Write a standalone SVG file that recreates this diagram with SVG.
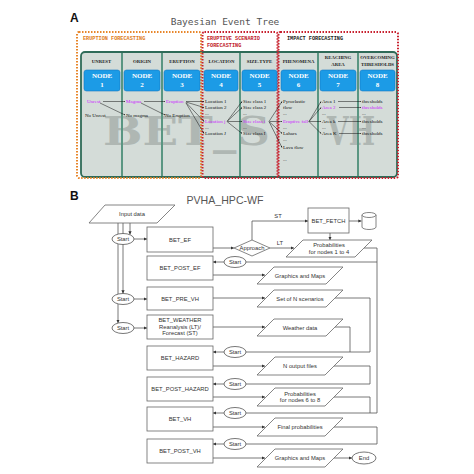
<svg xmlns="http://www.w3.org/2000/svg" width="474" height="474" viewBox="0 0 474 474">
<defs>
<style>
.lbl{font:bold 12px "Liberation Sans",Arial,sans-serif;fill:#111}
.ttl{font:9.5px "DejaVu Sans Mono",monospace;fill:#555}
.sec{font:bold 5.2px "Liberation Mono","DejaVu Sans Mono",monospace}
.hd{font:bold 4.8px "Liberation Serif",serif;fill:#222;text-anchor:middle}
.nd{font:bold 7px "Liberation Serif",serif;fill:#fff;text-anchor:middle}
.tx{font:5px "Liberation Serif",serif;fill:#111}
.mg{fill:#cc22ff}
.wm{font:bold 40px "DejaVu Serif","Liberation Serif",serif;fill:#a0a8a4;opacity:0.7}
.node{fill:#1c9be6;stroke:#1579c2;stroke-width:0.6}
.div{stroke:#5a9682;stroke-width:2}
.ca{stroke:#111;stroke-width:0.5;fill:none}
.fl{font:5.8px "Liberation Sans",Arial,sans-serif;fill:#333;text-anchor:middle}
.box{fill:#fff;stroke:#666;stroke-width:0.8}
.st{fill:#fff;stroke:#555;stroke-width:0.8}
.cn{fill:none;stroke:#555;stroke-width:0.8}
</style>
<marker id="aa" viewBox="0 0 6 6" refX="6" refY="3" markerWidth="3" markerHeight="3" orient="auto"><path d="M0,0 L6,3 L0,6 z" fill="#111"/></marker>
<marker id="ab" viewBox="0 0 6 6" refX="6" refY="3" markerWidth="4" markerHeight="4" orient="auto"><path d="M0,0 L6,3 L0,6 z" fill="#333"/></marker>
</defs>
<rect width="474" height="474" fill="#fff"/>

<!-- ============ PART A ============ -->
<text class="lbl" x="70" y="22">A</text>
<text class="ttl" x="225" y="25" text-anchor="middle">Bayesian Event Tree</text>

<g id="panelA">
<rect x="81" y="52" width="316" height="125" rx="4" fill="#d4dcd8" stroke="#2f6b58" stroke-width="1.8"/>
<text class="wm" x="103" y="145"><tspan textLength="167" lengthAdjust="spacingAndGlyphs">BET_S</tspan><tspan x="327" textLength="48" lengthAdjust="spacingAndGlyphs">VH</tspan></text>
<line class="div" x1="122" y1="53" x2="122" y2="176"/>
<line class="div" x1="162" y1="53" x2="162" y2="176"/>
<line class="div" x1="240" y1="53" x2="240" y2="176"/>
<line class="div" x1="318" y1="53" x2="318" y2="176"/>
<line class="div" x1="358" y1="53" x2="358" y2="176"/>
</g>

<g id="sections">
<rect x="77" y="32" width="124" height="146" rx="2" fill="none" stroke="#e8862a" stroke-width="2" stroke-dasharray="1.5 1.5"/>
<rect x="202.5" y="32" width="75" height="146" rx="2" fill="none" stroke="#c8202e" stroke-width="2" stroke-dasharray="1.5 1.5"/>
<rect x="278.5" y="32" width="119.5" height="146" rx="2" fill="none" stroke="#c8202e" stroke-width="2" stroke-dasharray="1.5 1.5"/>
<text class="sec" x="83" y="40" fill="#e07b20">ERUPTION FORECASTING</text>
<text class="sec" x="207" y="40" fill="#c0202a">ERUPTIVE SCENARIO</text>
<text class="sec" x="207" y="47" fill="#c0202a">FORECASTING</text>
<text class="sec" x="287" y="40" fill="#222">IMPACT FORECASTING</text>
</g>

<g id="node1">
<text class="hd" x="101.5" y="63">UNREST</text>
<rect class="node" x="84" y="70" width="36" height="21" rx="2.5"/>
<text class="nd" x="102" y="78">NODE</text><text class="nd" x="102" y="87">1</text>
<text class="tx mg" x="87" y="103">Unrest</text>
<text class="tx" x="85" y="117">No Unrest</text>
</g>
<g id="node2">
<text class="hd" x="142" y="63">ORIGIN</text>
<rect class="node" x="124" y="70" width="36" height="21" rx="2.5"/>
<text class="nd" x="142" y="78">NODE</text><text class="nd" x="142" y="87">2</text>
<text class="tx mg" x="126" y="103">Magma</text>
<text class="tx" x="126" y="117">No magma</text>
</g>
<g id="node3">
<text class="hd" x="182" y="63">ERUPTION</text>
<rect class="node" x="164" y="70" width="36" height="21" rx="2.5"/>
<text class="nd" x="182" y="78">NODE</text><text class="nd" x="182" y="87">3</text>
<text class="tx mg" x="166" y="103">Eruption</text>
<text class="tx" x="165" y="117">No Eruption</text>
</g>
<g id="node4">
<text class="hd" x="221.5" y="63">LOCATION</text>
<rect class="node" x="204" y="70" width="34" height="21" rx="2.5"/>
<text class="nd" x="221" y="78">NODE</text><text class="nd" x="221" y="87">4</text>
<text class="tx" x="205" y="103">Location 1</text>
<text class="tx" x="205" y="109">Location 2</text>
<text class="tx" x="205" y="115">...</text>
<text class="tx mg" x="205" y="123">Location j</text>
<text class="tx" x="205" y="129">...</text>
<text class="tx" x="205" y="135">Location J</text>
</g>
<g id="node5">
<text class="hd" x="259.5" y="63">SIZE-TYPE</text>
<rect class="node" x="242" y="70" width="35" height="21" rx="2.5"/>
<text class="nd" x="259.5" y="78">NODE</text><text class="nd" x="259.5" y="87">5</text>
<text class="tx" x="243" y="103">Size class 1</text>
<text class="tx" x="243" y="109">Size class 2</text>
<text class="tx" x="243" y="115">...</text>
<text class="tx mg" x="243" y="123">Size class i</text>
<text class="tx" x="243" y="129">...</text>
<text class="tx" x="243" y="135">Size class I</text>
</g>
<g id="node6">
<text class="hd" x="298.5" y="63">PHENOMENA</text>
<rect class="node" x="281" y="70" width="35" height="21" rx="2.5"/>
<text class="nd" x="298.5" y="78">NODE</text><text class="nd" x="298.5" y="87">6</text>
<text class="tx" x="283" y="103">Pyroclastic</text>
<text class="tx" x="283" y="109">flow</text>
<text class="tx" x="283" y="115">...</text>
<text class="tx mg" x="283" y="123">Eruptive fall</text>
<text class="tx" x="283" y="129">...</text>
<text class="tx" x="283" y="135">Lahars</text>
<text class="tx" x="283" y="141">...</text>
<text class="tx" x="283" y="149">Lava flow</text>
<text class="tx" x="283" y="161">...</text>
</g>
<g id="node7">
<text class="hd" x="338" y="59">REACHING</text>
<text class="hd" x="338" y="66">AREA</text>
<rect class="node" x="320" y="70" width="36" height="21" rx="2.5"/>
<text class="nd" x="338" y="78">NODE</text><text class="nd" x="338" y="87">7</text>
<text class="tx" x="322" y="103">Area 1</text>
<text class="tx mg" x="322" y="109">Area 2</text>
<text class="tx" x="322" y="115">...</text>
<text class="tx" x="322" y="123">Area k</text>
<text class="tx" x="322" y="129">...</text>
<text class="tx" x="322" y="135">Area K</text>
</g>
<g id="node8">
<text class="hd" x="377.5" y="59">OVERCOMING</text>
<text class="hd" x="377.5" y="66">THRESHOLDS</text>
<rect class="node" x="360" y="70" width="35" height="21" rx="2.5"/>
<text class="nd" x="377.5" y="78">NODE</text><text class="nd" x="377.5" y="87">8</text>
<text class="tx" x="362" y="103">thresholds</text>
<text class="tx mg" x="362" y="109">thresholds</text>
<text class="tx" x="362" y="115">...</text>
<text class="tx" x="362" y="123">thresholds</text>
<text class="tx" x="362" y="129">...</text>
<text class="tx" x="362" y="135">thresholds</text>
</g>

<g id="connectorsA">
<line class="ca" x1="103" y1="101.5" x2="125" y2="101.5" marker-end="url(#aa)"/>
<line class="ca" x1="100" y1="103" x2="125" y2="115" marker-end="url(#aa)"/>
<line class="ca" x1="144" y1="101.5" x2="165" y2="101.5" marker-end="url(#aa)"/>
<line class="ca" x1="141" y1="103" x2="165" y2="115" marker-end="url(#aa)"/>
<line class="ca" x1="186" y1="101.5" x2="204" y2="101.5" marker-end="url(#aa)"/>
<line class="ca" x1="186" y1="102" x2="204" y2="107.5" marker-end="url(#aa)"/>
<line class="ca" x1="186" y1="102.5" x2="204" y2="121.5" marker-end="url(#aa)"/>
<line class="ca" x1="186" y1="103" x2="204" y2="133.5" marker-end="url(#aa)"/>
<line class="ca" x1="227" y1="121.5" x2="242" y2="101.5" marker-end="url(#aa)"/>
<line class="ca" x1="227" y1="121.5" x2="242" y2="107.5" marker-end="url(#aa)"/>
<line class="ca" x1="228" y1="121.5" x2="242" y2="121.5" marker-end="url(#aa)"/>
<line class="ca" x1="227" y1="121.5" x2="242" y2="133.5" marker-end="url(#aa)"/>
<line class="ca" x1="269" y1="121.5" x2="282" y2="101.5" marker-end="url(#aa)"/>
<line class="ca" x1="270" y1="121.5" x2="282" y2="121.5" marker-end="url(#aa)"/>
<line class="ca" x1="269" y1="121.5" x2="282" y2="133.5" marker-end="url(#aa)"/>
<line class="ca" x1="269" y1="121.5" x2="282" y2="147.5" marker-end="url(#aa)"/>
<line class="ca" x1="309" y1="121.5" x2="321" y2="101.5" marker-end="url(#aa)"/>
<line class="ca" x1="309" y1="121.5" x2="321" y2="107.5" marker-end="url(#aa)"/>
<line class="ca" x1="309" y1="121.5" x2="321" y2="121.5" marker-end="url(#aa)"/>
<line class="ca" x1="309" y1="121.5" x2="321" y2="133.5" marker-end="url(#aa)"/>
<line class="ca" x1="338" y1="101.5" x2="361" y2="101.5" marker-end="url(#aa)"/>
<line class="ca" x1="339" y1="107.5" x2="361" y2="107.5" marker-end="url(#aa)"/>
<line class="ca" x1="338" y1="121.5" x2="361" y2="121.5" marker-end="url(#aa)"/>
<line class="ca" x1="339" y1="133.5" x2="361" y2="133.5" marker-end="url(#aa)"/>
</g>

<!-- ============ PART B ============ -->
<text class="lbl" x="70" y="200">B</text>
<text x="225" y="204" text-anchor="middle" font-family="Liberation Sans,Arial,sans-serif" font-size="11" fill="#555" textLength="77" lengthAdjust="spacingAndGlyphs">PVHA_HPC-WF</text>

<g id="connectorsB">
<line class="cn" x1="130" y1="223" x2="130" y2="234.5" marker-end="url(#ab)"/>
<line class="cn" x1="123" y1="223" x2="123" y2="293.5" marker-end="url(#ab)"/>
<line class="cn" x1="118" y1="223" x2="118" y2="323" marker-end="url(#ab)"/>
<line class="cn" x1="134" y1="239" x2="147" y2="239" marker-end="url(#ab)"/>
<line class="cn" x1="134" y1="299" x2="147" y2="299" marker-end="url(#ab)"/>
<line class="cn" x1="134" y1="328" x2="147" y2="328" marker-end="url(#ab)"/>
<line class="cn" x1="213" y1="248" x2="234" y2="248" marker-end="url(#ab)"/>
<polyline class="cn" points="252,240 252,221 308,221" marker-end="url(#ab)"/>
<line class="cn" x1="270" y1="248" x2="294" y2="248" marker-end="url(#ab)"/>
<line class="cn" x1="330" y1="233" x2="330" y2="240" marker-end="url(#ab)"/>
<line class="cn" x1="349" y1="221" x2="361.5" y2="221" marker-end="url(#ab)"/>
<polyline class="cn" points="364,248 377,248 377,413 246,413"/>
<line class="cn" x1="377" y1="262" x2="246" y2="262"/>
<line class="cn" x1="224" y1="262" x2="213" y2="262" marker-end="url(#ab)"/>
<line class="cn" x1="213" y1="275" x2="265" y2="275" marker-end="url(#ab)"/>
<line class="cn" x1="213" y1="298" x2="265" y2="298" marker-end="url(#ab)"/>
<line class="cn" x1="213" y1="327" x2="265" y2="327" marker-end="url(#ab)"/>
<polyline class="cn" points="335,298 370,298 370,352 246,352"/>
<polyline class="cn" points="335,327 350,327 350,352"/>
<line class="cn" x1="224" y1="352" x2="213" y2="352" marker-end="url(#ab)"/>
<line class="cn" x1="213" y1="366" x2="265" y2="366" marker-end="url(#ab)"/>
<polyline class="cn" points="334,366 370,366 370,384 246,384"/>
<line class="cn" x1="224" y1="384" x2="213" y2="384" marker-end="url(#ab)"/>
<line class="cn" x1="213" y1="397" x2="265" y2="397" marker-end="url(#ab)"/>
<polyline class="cn" points="334,397 370,397 370,413"/>
<line class="cn" x1="224" y1="413" x2="213" y2="413" marker-end="url(#ab)"/>
<line class="cn" x1="213" y1="427" x2="265" y2="427" marker-end="url(#ab)"/>
<polyline class="cn" points="334,427 377,427 377,444 246,444"/>
<line class="cn" x1="224" y1="444" x2="213" y2="444" marker-end="url(#ab)"/>
<line class="cn" x1="213" y1="458" x2="265" y2="458" marker-end="url(#ab)"/>
<line class="cn" x1="334" y1="458" x2="352" y2="458" marker-end="url(#ab)"/>
<text class="fl" x="278" y="218">ST</text>
<text class="fl" x="280" y="245">LT</text>
</g>

<g id="input">
<polygon class="box" points="105,205 175,205 157,223 89,223"/>
<text class="fl" x="132" y="216">Input data</text>
</g>
<g id="start1"><ellipse class="st" cx="123" cy="239" rx="11" ry="5.5"/><text class="fl" x="123" y="241">Start</text></g>
<g id="start2"><ellipse class="st" cx="123" cy="299" rx="11" ry="5.5"/><text class="fl" x="123" y="301">Start</text></g>
<g id="start3"><ellipse class="st" cx="123" cy="328" rx="11" ry="5.5"/><text class="fl" x="123" y="330">Start</text></g>

<g id="bet_ef"><rect class="box" x="147" y="227" width="66" height="25"/><text class="fl" x="180" y="241.5">BET_EF</text></g>
<g id="bet_post_ef"><rect class="box" x="147" y="256" width="66" height="24"/><text class="fl" x="180" y="270">BET_POST_EF</text></g>
<g id="bet_pre_vh"><rect class="box" x="147" y="287" width="66" height="23"/><text class="fl" x="180" y="300.5">BET_PRE_VH</text></g>
<g id="bet_weather"><rect class="box" x="147" y="315" width="66" height="24"/>
<text class="fl" x="180" y="322">BET_WEATHER</text><text class="fl" x="180" y="328.5">Reanalysis (LT)/</text><text class="fl" x="180" y="335">Forecast (ST)</text></g>
<g id="bet_hazard"><rect class="box" x="147" y="346" width="66" height="24"/><text class="fl" x="180" y="360">BET_HAZARD</text></g>
<g id="bet_post_hazard"><rect class="box" x="147" y="377" width="66" height="24"/><text class="fl" x="180" y="391">BET_POST_HAZARD</text></g>
<g id="bet_vh"><rect class="box" x="147" y="407" width="66" height="24"/><text class="fl" x="180" y="421">BET_VH</text></g>
<g id="bet_post_vh"><rect class="box" x="147" y="439" width="66" height="24"/><text class="fl" x="180" y="453">BET_POST_VH</text></g>

<g id="approach"><polygon class="box" points="234,248 252,240 270,248 252,256"/><text class="fl" x="252" y="250">Approach</text></g>
<g id="bet_fetch"><rect class="box" x="308" y="208" width="41" height="25"/><text class="fl" x="328.5" y="223">BET_FETCH</text></g>
<g id="db">
<path class="box" d="M362,215 L362,227 A7,2.5 0 0 0 376,227 L376,215"/>
<ellipse class="box" cx="369" cy="215" rx="7" ry="2.5"/>
</g>
<g id="prob14"><polygon class="box" points="303,240 372,240 355,257 286,257"/><text class="fl" x="329" y="246.5">Probabilities</text><text class="fl" x="329" y="253.5">for nodes 1 to 4</text></g>
<g id="start_pef"><ellipse class="st" cx="235" cy="262" rx="11" ry="5.5"/><text class="fl" x="235" y="264">Start</text></g>

<g id="gm1"><polygon class="box" points="274,267 343,267 326,284 257,284"/><text class="fl" x="300" y="277.5">Graphics and Maps</text></g>
<g id="setn"><polygon class="box" points="274,290 343,290 326,307 257,307"/><text class="fl" x="300" y="300.5">Set of N scenarios</text></g>
<g id="weather"><polygon class="box" points="274,319 343,319 326,336 257,336"/><text class="fl" x="300" y="329.5">Weather data</text></g>

<g id="start_hz"><ellipse class="st" cx="235" cy="352" rx="11" ry="5.5"/><text class="fl" x="235" y="354">Start</text></g>
<g id="start_phz"><ellipse class="st" cx="235" cy="384" rx="11" ry="5.5"/><text class="fl" x="235" y="386">Start</text></g>
<g id="start_vh"><ellipse class="st" cx="235" cy="413" rx="11" ry="5.5"/><text class="fl" x="235" y="415">Start</text></g>
<g id="start_pvh"><ellipse class="st" cx="235" cy="444" rx="11" ry="5.5"/><text class="fl" x="235" y="446">Start</text></g>

<g id="nout"><polygon class="box" points="275,357 343,357 325,375 257,375"/><text class="fl" x="300" y="368">N output files</text></g>
<g id="prob68"><polygon class="box" points="275,388 343,388 325,406 257,406"/><text class="fl" x="300" y="395.5">Probabilities</text><text class="fl" x="300" y="402">for nodes 6 to 8</text></g>
<g id="finalp"><polygon class="box" points="275,418 343,418 325,436 257,436"/><text class="fl" x="300" y="429">Final probabilities</text></g>
<g id="gm2"><polygon class="box" points="275,449 343,449 325,467 257,467"/><text class="fl" x="300" y="460">Graphics and Maps</text></g>
<g id="end"><ellipse class="st" cx="364" cy="458" rx="12" ry="6"/><text class="fl" x="364" y="460">End</text></g>
</svg>
